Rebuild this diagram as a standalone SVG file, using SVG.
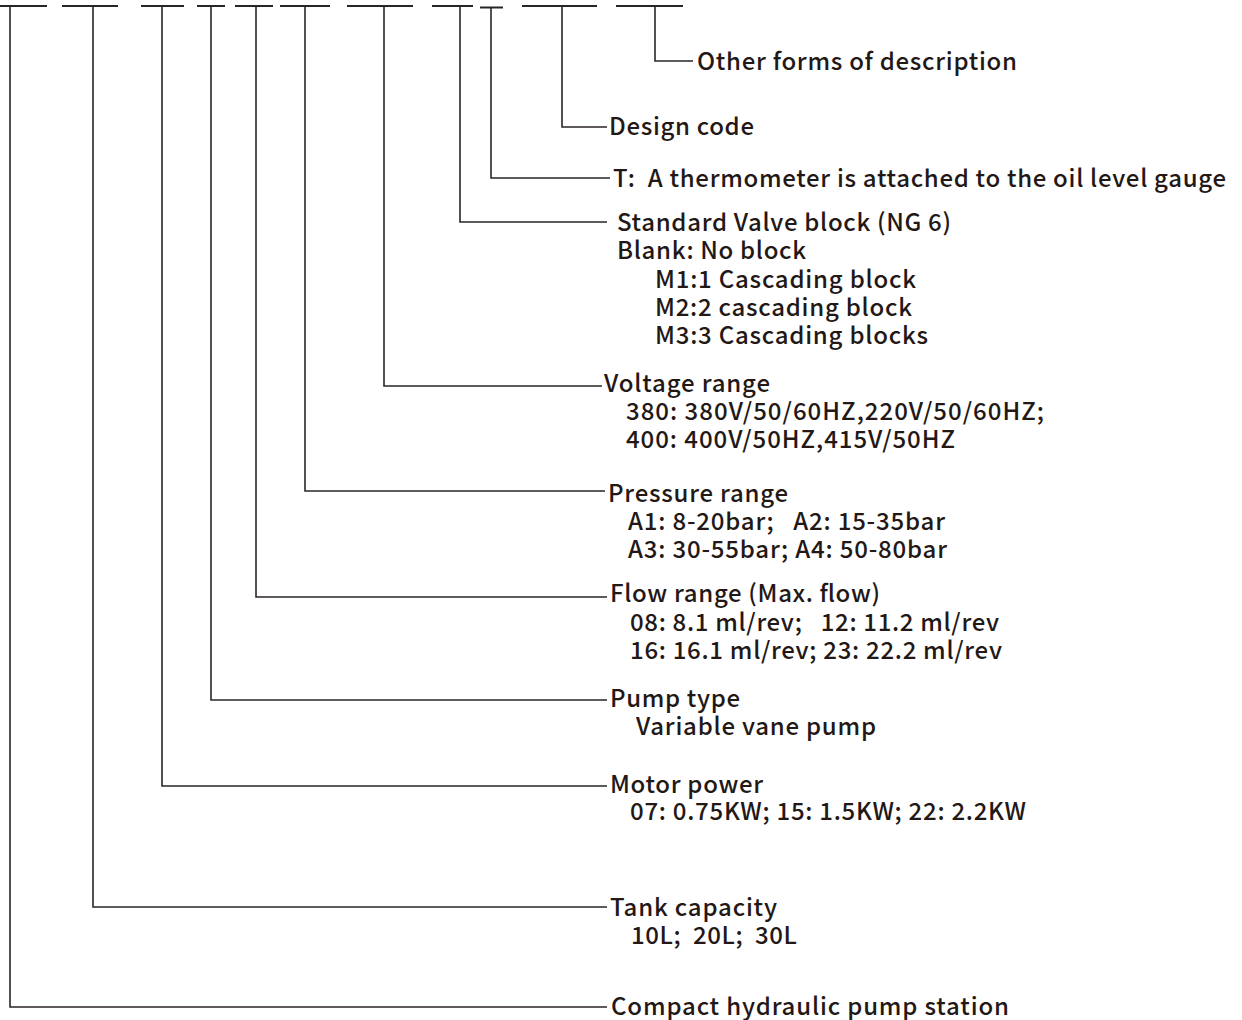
<svg xmlns="http://www.w3.org/2000/svg" width="1242" height="1020" viewBox="0 0 1242 1020">
<style>
.dash{stroke:#2b2626;stroke-width:2;fill:none}
.conn{stroke:#2b2626;stroke-width:1.6;fill:none}
text{font-family:"Noto Sans CJK SC","Noto Sans",sans-serif;font-size:24px;font-weight:500;fill:#231815;white-space:pre}
</style>
<rect width="1242" height="1020" fill="#ffffff"/>
<g id="code-dashes">
<line class="dash" x1="0" y1="6" x2="47" y2="6"/>
<line class="dash" x1="62" y1="6" x2="118" y2="6"/>
<line class="dash" x1="141" y1="6" x2="184" y2="6"/>
<line class="dash" x1="197" y1="6" x2="225" y2="6"/>
<line class="dash" x1="235" y1="6" x2="273" y2="6"/>
<line class="dash" x1="280" y1="6" x2="330" y2="6"/>
<line class="dash" x1="347" y1="6" x2="413" y2="6"/>
<line class="dash" x1="432" y1="6" x2="473" y2="6"/>
<line class="dash" x1="480" y1="7.5" x2="503" y2="7.5"/>
<line class="dash" x1="522" y1="6" x2="597" y2="6"/>
<line class="dash" x1="616" y1="6" x2="683" y2="6"/>
</g>
<g id="connectors">
<polyline class="conn" points="655,6 655,61 693,61"/>
<polyline class="conn" points="562,6 562,127 607,127"/>
<polyline class="conn" points="491,7.5 491,178 610,178"/>
<polyline class="conn" points="460,6 460,222 607,222"/>
<polyline class="conn" points="384,6 384,386 602,386"/>
<polyline class="conn" points="305,6 305,491 605,491"/>
<polyline class="conn" points="256,6 256,597 607,597"/>
<polyline class="conn" points="211,6 211,700 607,700"/>
<polyline class="conn" points="162,6 162,786 607,786"/>
<polyline class="conn" points="93,6 93,907 607,907"/>
<polyline class="conn" points="10,6 10,1007 607,1007"/>
</g>
<g id="node-other">
<text x="697" y="70" textLength="320">Other forms of description</text>
</g>
<g id="node-design">
<text x="609" y="135" textLength="145">Design code</text>
</g>
<g id="node-thermometer">
<text x="613" y="187" textLength="613">T:  A thermometer is attached to the oil level gauge</text>
</g>
<g id="node-valve-block">
<text x="617" y="231" textLength="334">Standard Valve block (NG 6)</text>
<text x="617" y="259" textLength="189">Blank: No block</text>
<text x="655" y="288" textLength="261">M1:1 Cascading block</text>
<text x="655" y="316" textLength="257">M2:2 cascading block</text>
<text x="655" y="344" textLength="273">M3:3 Cascading blocks</text>
</g>
<g id="node-voltage">
<text x="604" y="392" textLength="166">Voltage range</text>
<text x="626" y="420" textLength="418">380: 380V/50/60HZ,220V/50/60HZ;</text>
<text x="626" y="448" textLength="329">400: 400V/50HZ,415V/50HZ</text>
</g>
<g id="node-pressure">
<text x="608" y="502" textLength="180">Pressure range</text>
<text x="628" y="530" textLength="317">A1: 8-20bar;   A2: 15-35bar</text>
<text x="628" y="558" textLength="319">A3: 30-55bar; A4: 50-80bar</text>
</g>
<g id="node-flow">
<text x="610" y="602" textLength="270">Flow range (Max. flow)</text>
<text x="630" y="631" textLength="369">08: 8.1 ml/rev;   12: 11.2 ml/rev</text>
<text x="630" y="659" textLength="372">16: 16.1 ml/rev; 23: 22.2 ml/rev</text>
</g>
<g id="node-pump">
<text x="610" y="707" textLength="130">Pump type</text>
<text x="636" y="735" textLength="240">Variable vane pump</text>
</g>
<g id="node-motor">
<text x="610" y="793" textLength="153">Motor power</text>
<text x="630" y="820" textLength="396">07: 0.75KW; 15: 1.5KW; 22: 2.2KW</text>
</g>
<g id="node-tank">
<text x="610" y="916" textLength="167">Tank capacity</text>
<text x="631" y="944" textLength="166">10L;  20L;  30L</text>
</g>
<g id="node-station">
<text x="611" y="1015" textLength="398">Compact hydraulic pump station</text>
</g>
</svg>
